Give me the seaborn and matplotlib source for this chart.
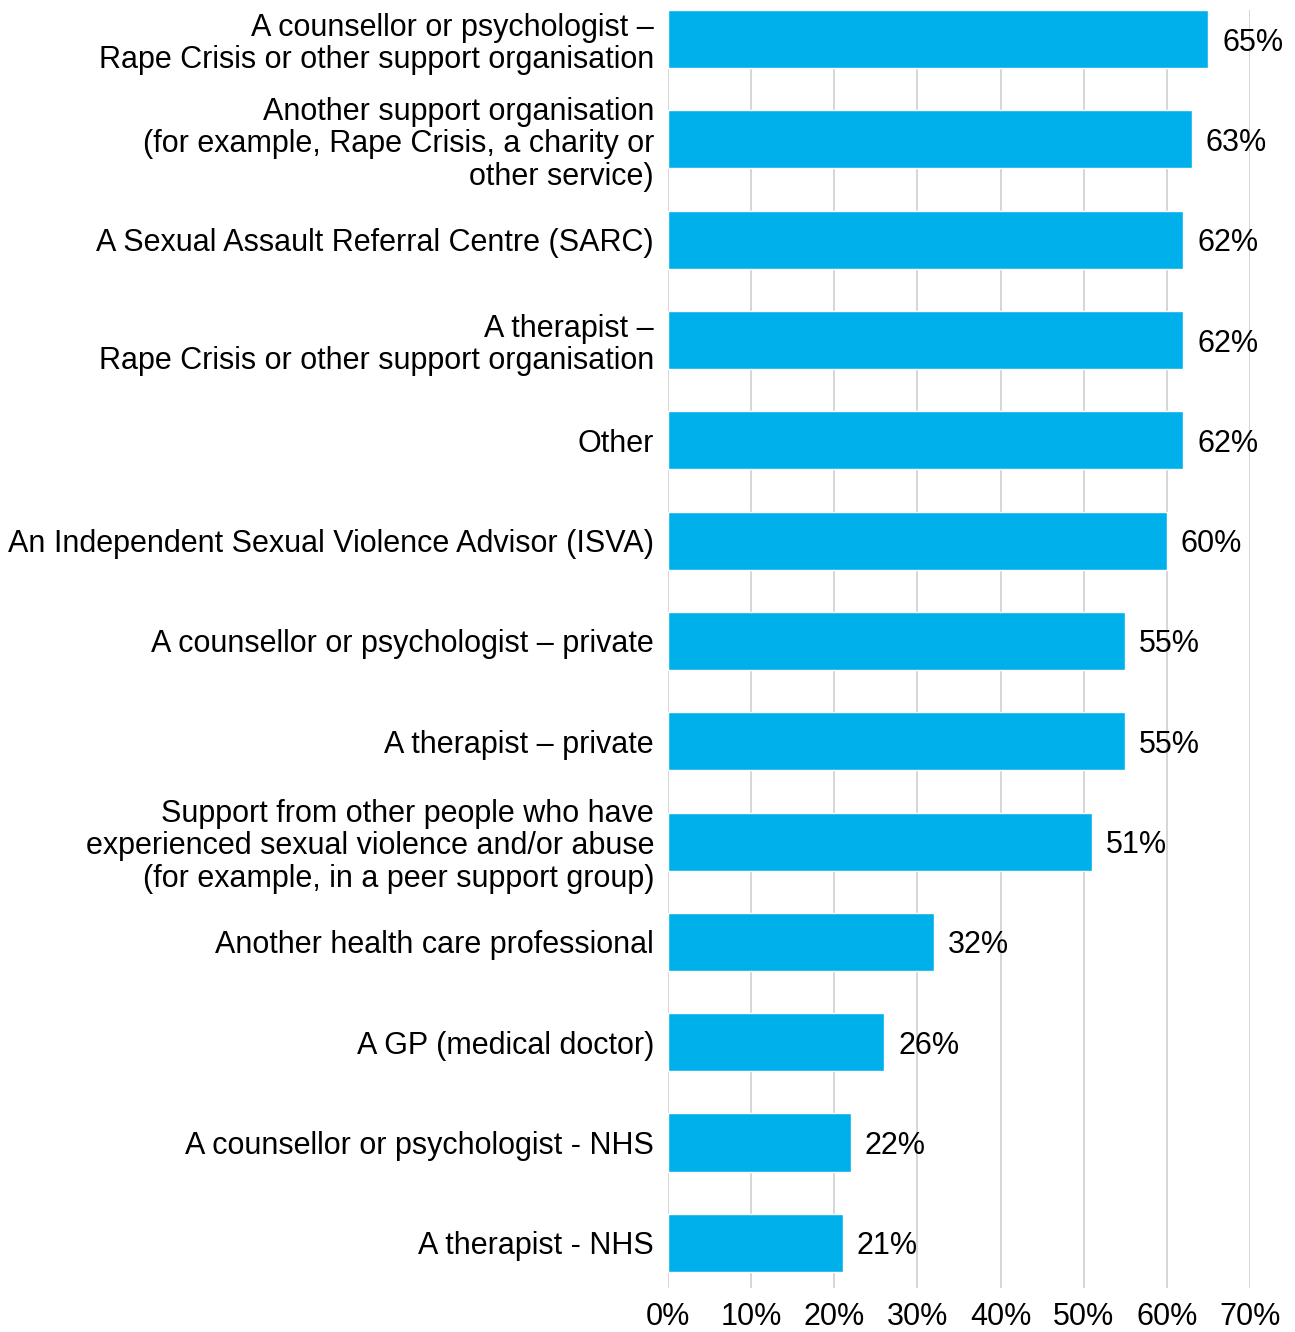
import matplotlib
matplotlib.use("Agg")
import matplotlib.pyplot as plt
import seaborn as sns
import pandas as pd
from matplotlib.ticker import FuncFormatter

categories = [
    "A counsellor or psychologist –\nRape Crisis or other support organisation",
    "Another support organisation\n(for example, Rape Crisis, a charity or\nother service)",
    "A Sexual Assault Referral Centre (SARC)",
    "A therapist –\nRape Crisis or other support organisation",
    "Other",
    "An Independent Sexual Violence Advisor (ISVA)",
    "A counsellor or psychologist – private",
    "A therapist – private",
    "Support from other people who have\nexperienced sexual violence and/or abuse\n(for example, in a peer support group)",
    "Another health care professional",
    "A GP (medical doctor)",
    "A counsellor or psychologist - NHS",
    "A therapist - NHS",
]
values = [65, 63, 62, 62, 62, 60, 55, 55, 51, 32, 26, 22, 21]
x_ticks = [0, 10, 20, 30, 40, 50, 60, 70]

df = pd.DataFrame({"service": categories, "pct": values})

sns.set_theme(style="white")
plt.rcParams["font.family"] = ["Liberation Sans", "DejaVu Sans"]

fig = plt.figure(figsize=(12.95, 13.32), dpi=100)
ax = fig.add_axes([668 / 1295, 44 / 1332, (1250 - 668) / 1295, (1288 - 10) / 1332])

sns.barplot(data=df, x="pct", y="service", orient="h", color="#00B0EB",
            saturation=1, width=0.58, ax=ax)

ax.set_xlim(0, 70)
ax.set_ylim(12.45, -0.29)
ax.set_xticks(x_ticks)
ax.xaxis.set_major_formatter(FuncFormatter(lambda v, _: f"{v:.0f}%"))
ax.grid(axis="x", color="#d3d3d3", linewidth=1.3)
ax.set_axisbelow(True)
for s in ax.spines.values():
    s.set_visible(False)
ax.set_xlabel("")
ax.set_ylabel("")
ax.tick_params(axis="x", length=0, pad=10, labelsize=22, colors="black")
ax.tick_params(axis="y", length=0, pad=10, labelsize=22, colors="black")
for t in ax.get_yticklabels():
    t.set_linespacing(1.12)

for i, v in enumerate(values):
    ax.annotate(f"{v}%", xy=(v, i), xytext=(10, 0), textcoords="offset points",
                ha="left", va="center_baseline", fontsize=22, color="black")

fig.savefig("out.png", dpi=100)
